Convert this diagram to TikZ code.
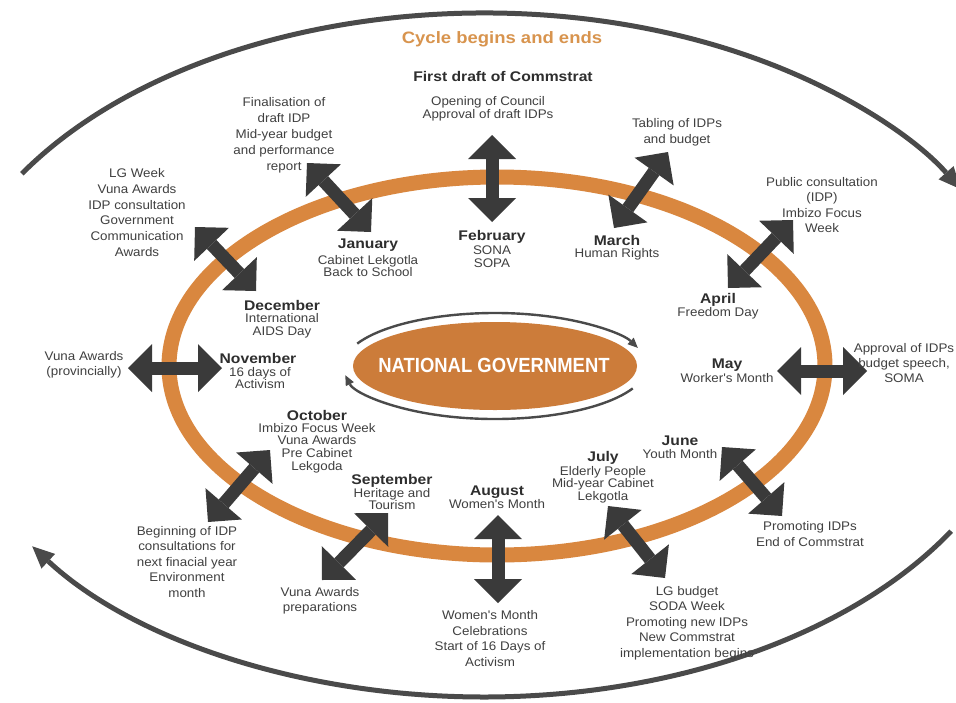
\documentclass[tikz,border=0pt]{standalone}
\usepackage{fontspec}
\setmainfont{Liberation Sans}
\newfontfamily\labf[FakeStretch=1.07]{Liberation Sans}
\newfontfamily\monf[FakeStretch=1.12]{Liberation Sans}
\newfontfamily\ngf[FakeStretch=0.9]{Liberation Sans}
\usetikzlibrary{arrows.meta}
\definecolor{ringor}{HTML}{D9873F}
\definecolor{ngor}{HTML}{CC7C3A}
\definecolor{cycor}{HTML}{D8944E}
\definecolor{darkar}{HTML}{3A3A3A}
\definecolor{txt}{HTML}{404040}
\definecolor{montxt}{HTML}{2E2E2E}
\definecolor{arcgray}{HTML}{4A4A4A}
\begin{document}
\begin{tikzpicture}[x=1pt,y=-1pt,
  body/.style={font=\labf\fontsize{12.5}{#1}\selectfont,text=txt,align=center,inner sep=0pt},
  body/.default=15.5,
  mon/.style={font=\monf\bfseries\fontsize{14}{14}\selectfont,text=montxt,inner sep=0pt},
  dbl/.style={draw=darkar,line width=13pt,
    {Triangle[length=24pt,width=48pt,line width=0pt]}-{Triangle[length=24pt,width=48pt,line width=0pt]}},
  bigarc/.style={draw=arcgray,line width=5pt,-{Triangle[length=22pt,width=20pt,line width=0pt]}},
  ngarc/.style={draw=arcgray,line width=2.4pt,-{Triangle[length=10pt,width=9pt,line width=0pt]}}
]
\useasboundingbox (0,0) rectangle (956,702);
\fill[white] (0,0) rectangle (956,702);

% outer cycle arcs
\coordinate (bigc) at (484,355);
\draw[bigarc] (bigc) ++(-148:545 and 342) arc[start angle=-148,end angle=-29,x radius=545,y radius=342];
\draw[bigarc] (bigc) ++(31:545 and 342) arc[start angle=31,end angle=146,x radius=545,y radius=342];

% orange ring
\coordinate (ringc) at (497,366);
\draw[ringor,line width=15pt] (ringc) ellipse [x radius=328,y radius=189];

% national government
\coordinate (ngc) at (495,366);
\fill[ngor] (ngc) ellipse [x radius=142,y radius=44];
\node[font=\ngf\bfseries\fontsize{20.5}{20.5}\selectfont,text=white,inner sep=0pt] (ng) at (494,365) {NATIONAL GOVERNMENT};
\draw[ngarc] (ngc) ++(-155:152 and 53) arc[start angle=-155,end angle=-20,x radius=152,y radius=53];
\draw[ngarc] (ngc) ++(25:152 and 53) arc[start angle=25,end angle=170,x radius=152,y radius=53];

% double arrows
\coordinate (janA) at (307,163); \coordinate (janB) at (371,232);
\coordinate (decA) at (195,227); \coordinate (decB) at (256,291);
\coordinate (novA) at (128,368); \coordinate (novB) at (222,368);
\coordinate (octA) at (270,450); \coordinate (octB) at (208,522);
\coordinate (sepA) at (388,513); \coordinate (sepB) at (322,580);
\coordinate (augA) at (498,515); \coordinate (augB) at (498,603);
\coordinate (julA) at (608,506); \coordinate (julB) at (665,578);
\coordinate (junA) at (722,447); \coordinate (junB) at (782,516);
\coordinate (mayA) at (777,371); \coordinate (mayB) at (867,371);
\coordinate (aprA) at (793,220); \coordinate (aprB) at (728,288);
\coordinate (marA) at (668,152); \coordinate (marB) at (614,228);
\coordinate (febA) at (492,135); \coordinate (febB) at (492,222);
\foreach \m in {jan,dec,nov,oct,sep,aug,jul,jun,may,apr,mar,feb}
  \draw[dbl] (\m A) -- (\m B);

% titles
\node[font=\monf\bfseries\fontsize{16.5}{16.5}\selectfont,text=cycor,inner sep=0pt] (cycle) at (502,39) {Cycle begins and ends};
\node[font=\monf\bfseries\fontsize{14}{14}\selectfont,text=montxt,inner sep=0pt] (first) at (503,76) {First draft of Commstrat};

% months
\node[mon] (jan) at (368,245) {January};
\node[body=12.5] (janD) at (368,266) {Cabinet Lekgotla\\Back to School};
\node[mon] (feb) at (492,237) {February};
\node[body=13] (febD) at (492,256.5) {SONA\\SOPA};
\node[mon] (mar) at (617,240) {March};
\node[body] (marD) at (617,254) {Human Rights};
\node[mon] (apr) at (718,300) {April};
\node[body] (aprD) at (718,313) {Freedom Day};
\node[mon] (may) at (727,365) {May};
\node[body] (mayD) at (727,378) {Worker's Month};
\node[mon] (jun) at (680,441) {June};
\node[body] (junD) at (680,454) {Youth Month};
\node[mon] (jul) at (603,458) {July};
\node[body=12.5] (julD) at (603,484.5) {Elderly People\\Mid-year Cabinet\\Lekgotla};
\node[mon] (aug) at (497,492) {August};
\node[body] (augD) at (497,504) {Women's Month};
\node[mon] (sep) at (392,481) {September};
\node[body=12] (sepD) at (392,499) {Heritage and\\Tourism};
\node[mon] (oct) at (317,415) {October};
\node[body=12.7] (octD) at (317,448) {Imbizo Focus Week\\Vuna Awards\\Pre Cabinet\\Lekgoda};
\node[mon] (nov) at (258,358) {November};
\node[body=12] (novD) at (260,378) {16 days of\\Activism};
\node[mon] (dec) at (282,305) {December};
\node[body=13] (decD) at (282,325.5) {International\\AIDS Day};

% outer labels
\node[body=13] (open) at (488,108.5) {Opening of Council\\Approval of draft IDPs};
\node[body=16] (fin) at (284,135) {Finalisation of\\draft IDP\\Mid-year budget\\and performance\\report};
\node[body=15.8] (lgw) at (137,212.5) {LG Week\\Vuna Awards\\IDP consultation\\Government\\Communication\\Awards};
\node[body=16] (tab) at (677,132.5) {Tabling of IDPs\\and budget};
\node[body=15.3] (pub) at (822,205) {Public consultation\\(IDP)\\Imbizo Focus\\Week};
\node[body=15] (appr) at (904,363) {Approval of IDPs\\budget speech,\\SOMA};
\node[body=15] (vunp) at (84,364.5) {Vuna Awards\\(provincially)};
\node[body=15.5] (begin) at (187,562) {Beginning of IDP\\consultations for\\next finacial year\\Environment\\month};
\node[body=15] (vprep) at (320,600.5) {Vuna Awards\\preparations};
\node[body=15.7] (wom) at (490,638.5) {Women's Month\\Celebrations\\Start of 16 Days of\\Activism};
\node[body=15.5] (lgb) at (687,623) {LG budget\\SODA Week\\Promoting new IDPs\\New Commstrat\\implementation begins};
\node[body=16] (prom) at (810,534) {Promoting IDPs\\End of Commstrat};
\end{tikzpicture}
\end{document}
